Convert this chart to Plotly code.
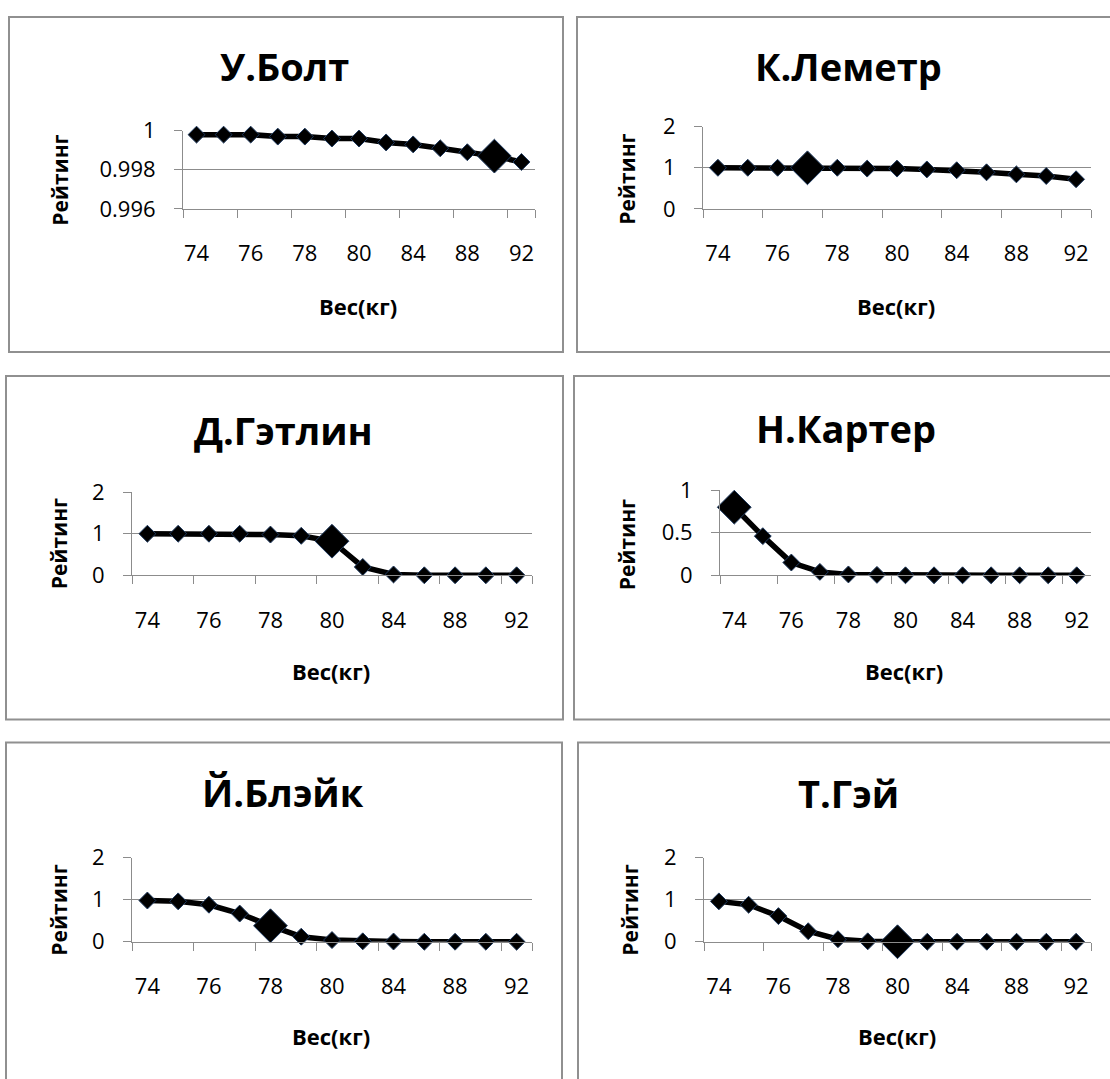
import plotly.graph_objects as go

# Body weight categories (kg) shared by every panel
weights = ["74", "75", "76", "77", "78", "79", "80", "82", "84", "86", "88", "90", "92"]
weight_labels = ["74", "76", "78", "80", "84", "88", "92"]

# Rating of each sprinter per weight category
bolt = [0.9998, 0.9998, 0.9998, 0.9997, 0.9997, 0.9996, 0.9996, 0.9994, 0.9993, 0.9991, 0.9989, 0.9987, 0.9984]
lemaitre = [1.0, 1.0, 1.0, 1.0, 1.0, 0.98, 0.98, 0.96, 0.94, 0.89, 0.84, 0.80, 0.72]
gatlin = [1.0, 1.0, 1.0, 1.0, 0.98, 0.95, 0.82, 0.20, 0.02, 0.0, 0.0, 0.0, 0.0]
carter = [0.80, 0.46, 0.15, 0.04, 0.01, 0.005, 0.0, 0.0, 0.0, 0.0, 0.0, 0.0, 0.0]
blake = [0.98, 0.96, 0.88, 0.67, 0.38, 0.12, 0.04, 0.01, 0.005, 0.0, 0.0, 0.0, 0.0]
gay = [0.96, 0.88, 0.61, 0.25, 0.06, 0.01, 0.0, 0.0, 0.0, 0.0, 0.0, 0.0, 0.0]

# Actual body weight of each athlete (highlighted point)
names = ["У.Болт", "К.Леметр", "Д.Гэтлин", "Н.Картер", "Й.Блэйк", "Т.Гэй"]
series = [bolt, lemaitre, gatlin, carter, blake, gay]
own_weight = ["90", "77", "80", "74", "78", "80"]

y_title = "Рейтинг"
x_title = "Вес(кг)"

W, H = 1110, 1079
FONT = "Open Sans"

# vertical placement: shifts and stretches the pixel layout below onto the page
Y_OFF, Y_SCALE = 16.4, 0.971


def fx(px):
    return px / W


def fy(py):
    v = (py - Y_OFF) / Y_SCALE
    return 1 - v / H


# Pixel geometry of each panel: plot area (x0, x1, ytop, ybottom), frame, text anchors
panels = [
    dict(plot=(183, 535, 131, 209), rng=(0.996, 1.0), dt=0.002,
         frame=(9, 563, 17.4, 352), title=(284, 66), xt=(358, 306), yt=(60, 181)),
    dict(plot=(703, 1091, 127, 209), rng=(0, 2), dt=1,
         frame=(577, 1114, 17.4, 352), title=(848, 66), xt=(896, 306), yt=(627, 180)),
    dict(plot=(132, 532, 492, 575), rng=(0, 2), dt=1,
         frame=(6, 563, 376, 719), title=(283, 430), xt=(331, 671), yt=(59, 544)),
    dict(plot=(720, 1091, 490, 575), rng=(0, 1), dt=0.5,
         frame=(574, 1114, 376, 719), title=(846, 428), xt=(904, 671), yt=(627, 545)),
    dict(plot=(132, 532, 857, 941), rng=(0, 2), dt=1,
         frame=(6, 562, 742, 1110), title=(283, 791), xt=(331, 1035), yt=(59, 910)),
    dict(plot=(704, 1091, 857, 941), rng=(0, 2), dt=1,
         frame=(578, 1114, 742, 1110), title=(848, 792), xt=(897, 1035), yt=(630, 910)),
]

fig = go.Figure()
annotations = []
shapes = []
AX_COLOR = "#8c8c8c"

for i, (p, name, vals, own) in enumerate(zip(panels, names, series, own_weight)):
    n = "" if i == 0 else str(i + 1)
    sizes = [26 if w == own else 13 for w in weights]
    fig.add_trace(go.Scatter(
        x=weights, y=vals, mode="lines+markers",
        line=dict(color="black", width=5.5),
        marker=dict(symbol="diamond", size=sizes, color="black", opacity=1,
                    line=dict(color="#1f3a5f", width=1)),
        xaxis="x" + n, yaxis="y" + n, showlegend=False, name=name,
        cliponaxis=False,
    ))
    x0, x1, yt0, yb0 = p["plot"]
    fig.update_layout(**{
        "xaxis" + n: dict(
            domain=[fx(x0), fx(x1)], anchor="y" + n, type="category",
            categoryorder="array", categoryarray=weights,
            range=[-0.5, len(weights) - 0.5],
            tickmode="array", tickvals=weight_labels, ticktext=weight_labels,
            tickson="boundaries", ticks="outside", ticklen=8, tickcolor=AX_COLOR,
            showline=True, linecolor=AX_COLOR, linewidth=1, showgrid=False,
            tickangle=0, ticklabelstandoff=25,
            tickfont=dict(family=FONT, size=22, color="black"),
            fixedrange=True,
        ),
        "yaxis" + n: dict(
            domain=[fy(yb0), fy(yt0)], anchor="x" + n,
            range=list(p["rng"]), tick0=p["rng"][0], dtick=p["dt"], tickmode="linear",
            ticks="outside", ticklen=8, tickcolor=AX_COLOR,
            showline=True, linecolor=AX_COLOR, linewidth=1,
            showgrid=True, gridcolor=AX_COLOR, gridwidth=1, zeroline=False,
            ticklabelstandoff=14,
            tickfont=dict(family=FONT, size=22, color="black"),
            fixedrange=True,
        ),
    })
    fx0, fx1, fy0, fy1 = p["frame"]
    shapes.append(dict(type="rect", xref="paper", yref="paper",
                       x0=fx(fx0), x1=fx(fx1), y0=fy(fy1), y1=fy(fy0),
                       line=dict(color="#909090", width=2), layer="below"))
    tx, ty = p["title"]
    annotations.append(dict(text="<b>" + name + "</b>", x=fx(tx), y=fy(ty),
                            xref="paper", yref="paper", showarrow=False,
                            xanchor="center", yanchor="middle",
                            font=dict(family=FONT, size=38, color="black")))
    ax, ay = p["xt"]
    annotations.append(dict(text="<b>" + x_title + "</b>", x=fx(ax), y=fy(ay),
                            xref="paper", yref="paper", showarrow=False,
                            xanchor="center", yanchor="middle",
                            font=dict(family=FONT, size=22, color="black")))
    bx, by = p["yt"]
    annotations.append(dict(text="<b>" + y_title + "</b>", x=fx(bx), y=fy(by),
                            xref="paper", yref="paper", showarrow=False,
                            textangle=-90, xanchor="center", yanchor="middle",
                            font=dict(family=FONT, size=21, color="black")))

fig.update_layout(
    width=W, height=H,
    margin=dict(l=0, r=0, t=0, b=0),
    paper_bgcolor="white", plot_bgcolor="white",
    annotations=annotations, shapes=shapes,
)

fig.write_html("out.html", config={"displayModeBar": False})
